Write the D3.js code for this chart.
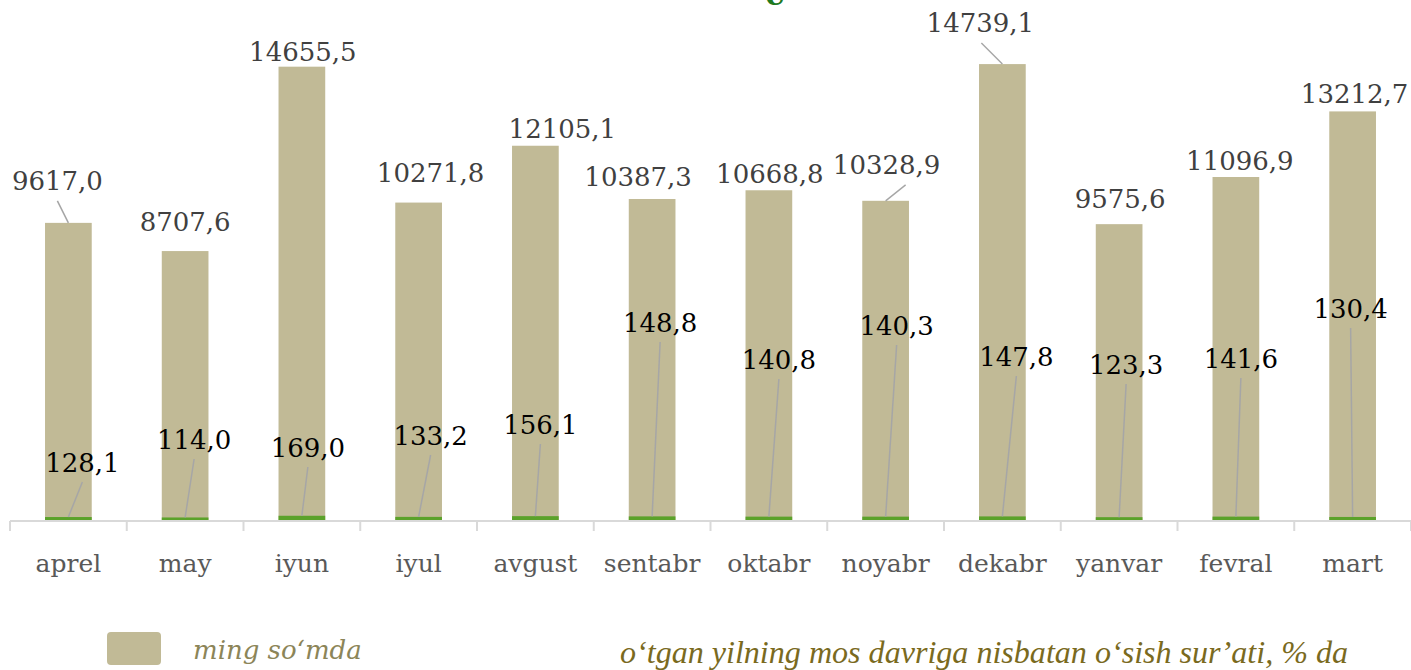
<!DOCTYPE html>
<head>
<meta charset="utf-8">
<style>
body { margin: 0; background: #fff; }
svg { display: block; }
.axis text { font: 25px "DejaVu Serif", serif; fill: #595959; }
.sumLabel { font: 26px "DejaVu Serif", serif; fill: #404040; }
.growthLabel { font: 26px "DejaVu Serif", serif; fill: #000; }
.leader { stroke: #a6a6a6; stroke-width: 1.5; fill: none; }
</style>
<title>Oylik ko'rsatkichlar</title>
</head>
<body>
<svg width="1411" height="670"></svg>
<script src="https://cdn.jsdelivr.net/npm/d3@7"></script>
<script>
// data
var months = ["aprel", "may", "iyun", "iyul", "avgust", "sentabr", "oktabr", "noyabr", "dekabr", "yanvar", "fevral", "mart"]
var sums = [9617.0, 8707.6, 14655.5, 10271.8, 12105.1, 10387.3, 10668.8, 10328.9, 14739.1, 9575.6, 11096.9, 13212.7]
var growth = [128.1, 114.0, 169.0, 133.2, 156.1, 148.8, 140.8, 140.3, 147.8, 123.3, 141.6, 130.4]
var legendSums = "ming soʻmda"
var legendGrowth = "oʻtgan yilning mos davriga nisbatan oʻsish surʼati, % da"

// label placement (pixels, like the hand-dragged labels of the original)
var sumLabelOff = [[-11, -42], [0, -29], [1, -15], [12, -30], [27, -17], [-14, -22], [1, -17], [1, -36], [-22, -41], [1, -26], [4, -16], [2, -18]]
var sumLeaderDx = [0, null, null, null, null, null, null, 19, 1, null, null, null]
var growthLabelOff = [[14, -58], [9, -81], [6, -73], [12, -85], [5, -96], [8, -198], [10, -161], [11, -195], [14, -164], [7, -156], [5, -162], [-2, -212]]

var svg = d3.select("svg")
var fmt = function(v) { return d3.format(".1f")(v).replace(".", ",") }

var x = d3.scaleBand().domain(months).range([10, 1411]).paddingInner(0.6).paddingOuter(0.3)
var y = d3.scaleLinear().domain([0, 16000]).range([521, 25])
var base = y(0)

// cut-off title glyph at the top edge
svg.append("text")
    .attr("x", 775).attr("y", 5)
    .attr("text-anchor", "middle")
    .style("font", "bold 30px 'DejaVu Serif', serif")
    .style("fill", "#1f7a1f")
    .text("e")

// bars
svg.selectAll(".bar")
  .data(sums)
  .enter().append("rect")
    .attr("class", "bar")
    .attr("x", (d, i) => x(months[i]))
    .attr("y", d => y(d))
    .attr("width", x.bandwidth())
    .attr("height", d => base - y(d))
    .attr("fill", "#c1ba96")

svg.selectAll(".gbar")
  .data(growth)
  .enter().append("rect")
    .attr("class", "gbar")
    .attr("x", (d, i) => x(months[i]))
    .attr("y", d => y(d))
    .attr("width", x.bandwidth())
    .attr("height", d => base - y(d))
    .attr("fill", "#5ba22a")

// axis
var gx = svg.append("g")
    .attr("class", "axis")
    .attr("transform", "translate(0," + base + ")")
    .call(d3.axisBottom(x).tickSize(0).tickPadding(33))
gx.select(".domain").remove()
gx.append("line")
    .attr("x1", 10).attr("x2", 1411)
    .attr("stroke", "#d9d9d9").attr("stroke-width", 2)
gx.selectAll(".bound")
  .data(d3.range(months.length + 1))
  .enter().append("line")
    .attr("class", "bound")
    .attr("x1", i => 10 + i * x.step()).attr("x2", i => 10 + i * x.step())
    .attr("y1", 0).attr("y2", 10)
    .attr("stroke", "#d9d9d9").attr("stroke-width", 2)

var cx = i => x(months[i]) + x.bandwidth() / 2

// leaders for the sum labels
sums.forEach(function(v, i) {
  if (sumLeaderDx[i] === null) return
  var lx = cx(i) + sumLabelOff[i][0], ly = y(v) + sumLabelOff[i][1]
  svg.append("line").attr("class", "leader")
      .attr("x1", lx + sumLeaderDx[i]).attr("y1", ly + 20)
      .attr("x2", cx(i)).attr("y2", y(v))
})

// leaders for the growth labels
svg.selectAll(".gleader")
  .data(growth)
  .enter().append("line")
    .attr("class", "leader gleader")
    .attr("x1", (d, i) => cx(i) + growthLabelOff[i][0])
    .attr("y1", (d, i) => base + growthLabelOff[i][1] + 19)
    .attr("x2", (d, i) => cx(i))
    .attr("y2", d => y(d))

svg.selectAll(".sumLabel")
  .data(sums)
  .enter().append("text")
    .attr("class", "sumLabel")
    .attr("text-anchor", "middle")
    .attr("x", (d, i) => cx(i) + sumLabelOff[i][0])
    .attr("y", (d, i) => y(d) + sumLabelOff[i][1])
    .attr("dy", "0.36em")
    .text(fmt)

svg.selectAll(".growthLabel")
  .data(growth)
  .enter().append("text")
    .attr("class", "growthLabel")
    .attr("text-anchor", "middle")
    .attr("x", (d, i) => cx(i) + growthLabelOff[i][0])
    .attr("y", (d, i) => base + growthLabelOff[i][1])
    .attr("dy", "0.36em")
    .text(fmt)

// legend
svg.append("rect")
    .attr("x", 107).attr("y", 632).attr("width", 54).attr("height", 33)
    .attr("rx", 4).attr("fill", "#c1ba96")
svg.append("text")
    .attr("x", 193).attr("y", 659)
    .style("font", "italic 26px 'DejaVu Serif', serif")
    .style("fill", "#8c8558")
    .text(legendSums)
svg.append("text")
    .attr("x", 620).attr("y", 663)
    .attr("textLength", 728).attr("lengthAdjust", "spacingAndGlyphs")
    .style("font", "italic 31px 'Liberation Serif', serif")
    .style("fill", "#7a6a1e")
    .text(legendGrowth)
</script>
</body>
